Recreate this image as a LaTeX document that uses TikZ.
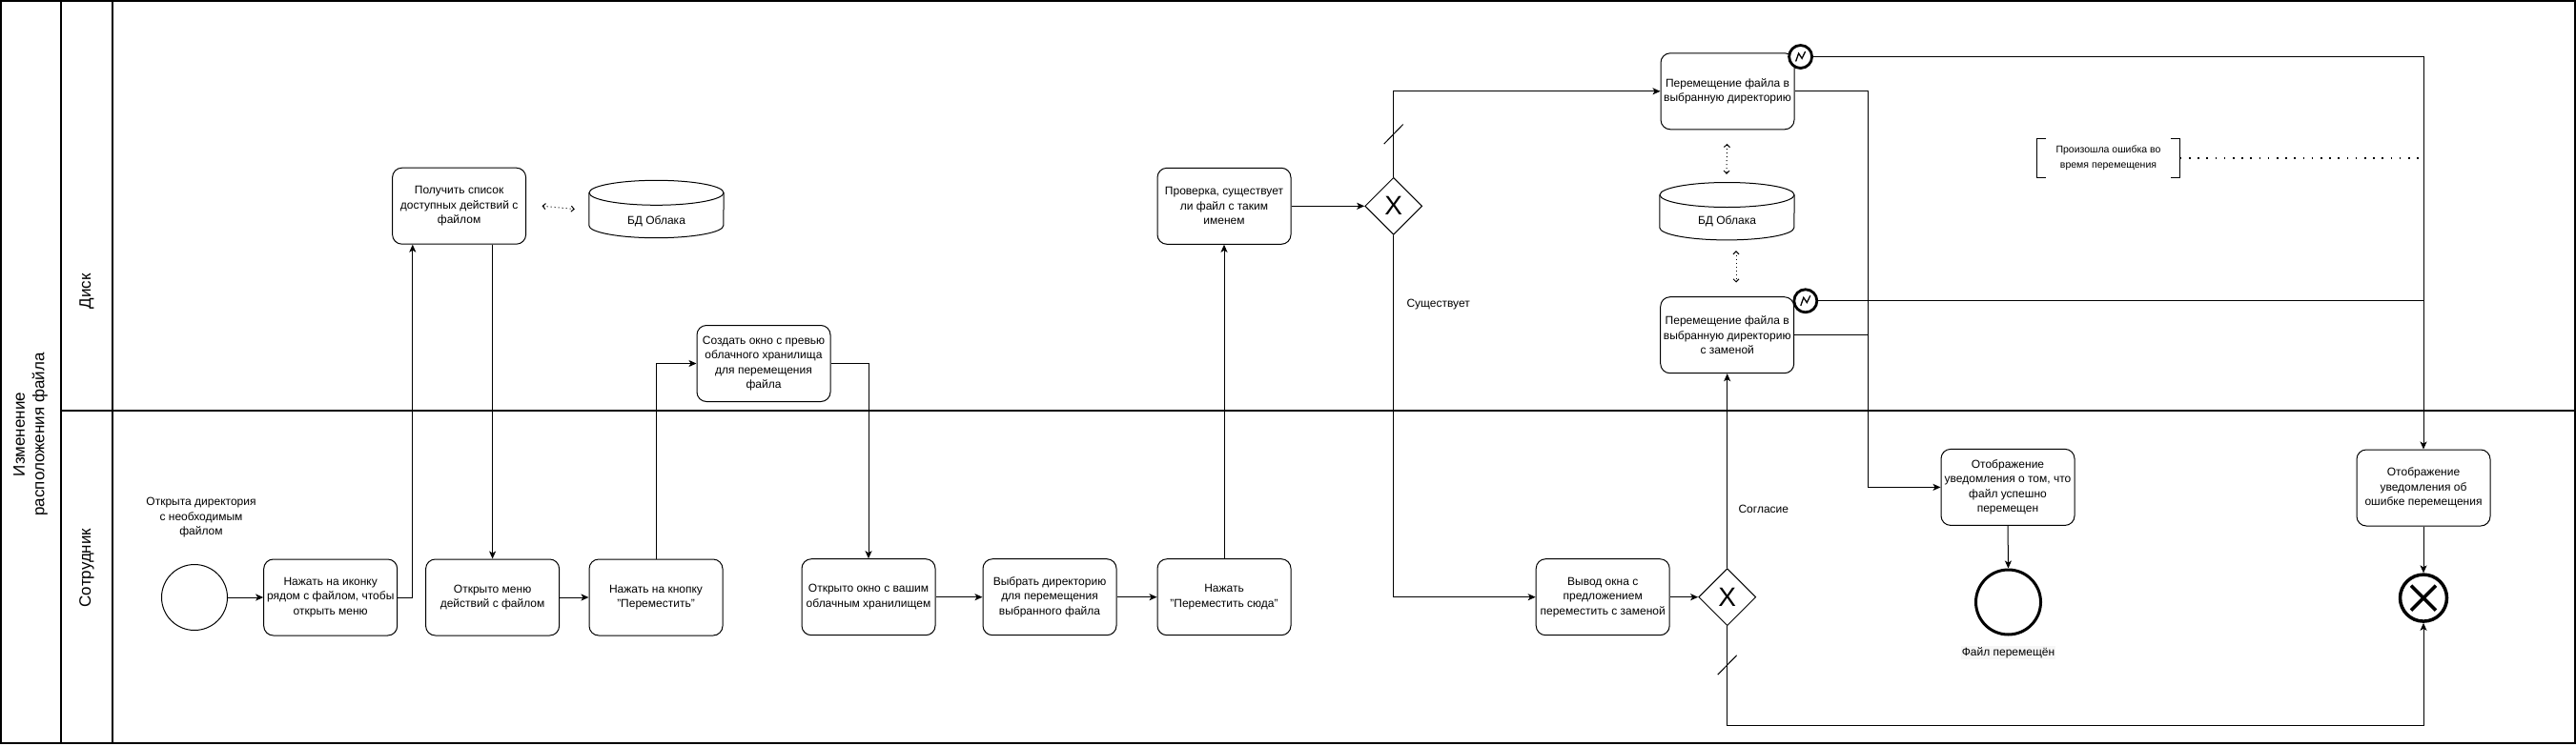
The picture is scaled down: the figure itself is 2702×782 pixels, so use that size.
\documentclass[tikz,border=0pt]{standalone}
\usepackage{fontspec}
\setmainfont{Liberation Sans}
\usetikzlibrary{arrows.meta,shapes.geometric,calc}
\begin{document}
\begin{tikzpicture}[x=1pt,y=-1pt,
  task/.style={draw, rounded corners=10pt, minimum width=140pt, minimum height=80pt, align=center, inner sep=1pt, line width=1pt, font=\fontsize{12}{15.5}\selectfont, fill=white},
  flow/.style={line width=1pt, -{Stealth[length=8pt,width=7pt,inset=2pt]}},
  plain/.style={line width=1pt},
  assoc/.style={line width=1pt, dash pattern=on 1pt off 3pt, {Straight Barb[length=3pt,width=6pt]}-{Straight Barb[length=3pt,width=6pt]}},
  annline/.style={line width=1.6pt, dash pattern=on 1.6pt off 7.6pt},
  gateway/.style={diamond, draw, minimum width=60pt, minimum height=60pt, inner sep=0pt, line width=1pt, font=\fontsize{28}{28}\selectfont, fill=white},
  txt/.style={align=center, font=\fontsize{12}{15.5}\selectfont},
  lanelbl/.style={rotate=90, align=center, font=\fontsize{17}{20.4}\selectfont},
  bevent/.style={circle, draw, line width=2.8pt, minimum size=24pt, inner sep=0pt, fill=white},
  startev/.style={circle, draw, line width=1pt, minimum size=69pt, inner sep=0pt},
  endev/.style={circle, draw, line width=3pt, minimum size=68pt, inner sep=0pt},
  errev/.style={circle, draw, line width=3.5pt, minimum size=49pt, inner sep=0pt},
  dbbox/.style={minimum width=141pt, minimum height=60pt, inner sep=0pt},
  slash/.style={line width=1pt}
]
\useasboundingbox (0,0) rectangle (2702,782);
\fill[white] (0,0) rectangle (2702,782);

% pool and lanes
\draw[line width=2pt] (1,1) rectangle (2701,780);
\draw[line width=2pt] (64,1) -- (64,780);
\draw[line width=2pt] (118,1) -- (118,780);
\draw[line width=2.6pt] (64,431) -- (2701,431);
\node[lanelbl] (pool) at (32,456) {Изменение\\расположения файла};
\node[lanelbl] (lane1) at (91,306) {Диск};
\node[lanelbl] (lane2) at (91,596) {Сотрудник};

% data store outlines
\node[dbbox] (db1) at (688.5,219.5) {};
\node[dbbox] (db2) at (1811.5,221.7) {};
\foreach \d in {db1,db2}{
  \draw[line width=1pt]
    ($(\d.north west)+(0,13)$) -- ($(\d.south west)+(0,-13)$)
    arc[start angle=180, end angle=360, x radius=70.5pt, y radius=13pt]
    -- ($(\d.north east)+(0,13)$);
  \draw[line width=1pt] ($(\d.north)+(0,13)$) ellipse [x radius=70.5pt, y radius=13pt];
}
\node[txt] (db1t) at (688.5,232) {БД Облака};
\node[txt] (db2t) at (1811.5,232.3) {БД Облака};

% nodes
\node[startev] (start) at (204,627) {};
\node[txt] (startlbl) at (211,543.5) {Открыта директория\\с необходимым\\файлом};
\node[task] (b1) at (346.7,627) {Нажать на иконку\\рядом с файлом, чтобы\\открыть меню};
\node[task] (b2) at (481.6,216.2) {Получить список\\доступных действий с\\файлом};
\node[task] (b3) at (516.6,627) {Открыто меню\\действий с файлом};
\node[task] (b4) at (688,627) {Нажать на кнопку\\"Переместить"};
\node[task] (b5) at (801,381.5) {Создать окно с превью\\облачного хранилища\\для перемещения\\файла};
\node[task] (b6) at (911,626.7) {Открыто окно с вашим\\облачным хранилищем};
\node[task] (b7) at (1101,626.7) {Выбрать директорию\\для перемещения\\выбранного файла};
\node[task] (b8) at (1284,626.7) {Нажать\\"Переместить сюда"};
\node[task] (b9) at (1284,216.3) {Проверка, существует\\ли файл с таким\\именем};
\node[gateway] (gw1) at (1461.7,216.3) {X};
\node[task] (b10) at (1812,95.8) {Перемещение файла в\\выбранную директорию};
\node[task] (b11) at (1811.7,351.7) {Перемещение файла в\\выбранную директорию\\с заменой};
\node[task] (b12) at (1681.2,626.7) {Вывод окна с\\предложением\\переместить с заменой};
\node[gateway] (gw2) at (1811.7,626.7) {X};
\node[task] (b13) at (2106,511.4) {Отображение\\уведомления о том, что\\файл успешно\\перемещен};
\node[endev] (end1) at (2106.5,632) {};
\node[txt, fill=gray!6, inner sep=1pt] (end1lbl) at (2106.5,685) {Файл перемещён};
\node[task] (b14) at (2542,512) {Отображение\\уведомления об\\ошибке перемещения};
\node[errev] (end2) at (2542,627.6) {};
\node[minimum width=150pt, minimum height=40.3pt, inner sep=0pt, align=center, font=\fontsize{10.5}{16}\selectfont] (ann) at (2211.5,166.2) {Произошла ошибка во\\время перемещения};
\coordinate (annend) at (2537,166.2);
\coordinate (j1) at (1959.5,431);
\coordinate (j2) at (2542,761);

% flows
\draw[flow] (start.east) -- (b1.west);
\draw[flow] (b1.east) -| ([xshift=-48.8pt]b2.south);
\draw[flow] ([xshift=35pt]b2.south) -- (b3.north);
\draw[flow] (b3.east) -- (b4.west);
\draw[flow] (b4.north) |- (b5.west);
\draw[flow] (b5.east) -| (b6.north);
\draw[flow] (b6.east) -- (b7.west);
\draw[flow] (b7.east) -- (b8.west);
\draw[flow] (b8.north) -- (b9.south);
\draw[flow] (b9.east) -- (gw1.west);
\draw[flow] (gw1.north) |- (b10.west);
\draw[flow] (gw1.south) |- (b12.west);
\draw[flow] (b12.east) -- (gw2.west);
\draw[flow] (gw2.north) -- (b11.south);
\draw[flow] (gw2.south) |- (j2) -- (end2.south);
\draw[flow] (b10.east) -| (j1) |- (b13.west);
\draw[plain] (b11.east) -- (b11.east -| j1);
\draw[flow] (b13.south) -- (end1.north);
\draw[flow] (b14.south) -- (end2.north);

% default-flow slashes
\path (gw1.north) ++(0,-45) coordinate (s1);
\draw[slash] ($(s1)+(-10,10.3)$) -- ($(s1)+(10,-10.3)$);
\path (gw2.south) ++(0,40.8) coordinate (s2);
\draw[slash] ($(s2)+(-10,10.2)$) -- ($(s2)+(10,-10.2)$);

% labels
\node[txt, anchor=west] (lblex) at (1472,320) {Существует};
\node[txt, anchor=west] (lblag) at (1820,534) {Согласие};

% associations with data stores
\draw[assoc] ([xshift=16.4pt]b2.east) -- ([xshift=-15pt]db1.west);
\draw[assoc] ([xshift=-0.5pt,yshift=-14.5pt]b10.south) -- ([xshift=-0.5pt,yshift=8.7pt]db2.north);
\draw[assoc] ([xshift=9.5pt,yshift=-11.3pt]db2.south) -- ([xshift=9.3pt,yshift=14.7pt]b11.north);

% boundary error events
\node[bevent] (be1) at (1888.6,59.5) {};
\node[bevent] (be2) at (1893.8,315.8) {};
\foreach \e in {be1,be2}{
  \draw[line width=1.3pt, shift={(\e)}] (-5,5) -- (-2,-3.5) -- (1.5,1.8) -- (5,-5.5);
}
\draw[flow] (be1.east) -| (b14.north);
\draw[plain] (be2.east) -- (be2.east -| b14.north);

% error end marker
\draw[line width=3.5pt, shift={(end2)}] (-13,-13) -- (13,13) (-13,13) -- (13,-13);

% annotation
\draw[line width=1pt] ([xshift=10pt]ann.north west) -- (ann.north west) -- (ann.south west) -- ([xshift=10pt]ann.south west);
\draw[line width=1pt] ([xshift=-10pt]ann.north east) -- (ann.north east) -- (ann.south east) -- ([xshift=-10pt]ann.south east);
\draw[annline] (ann.east) -- (annend);
\end{tikzpicture}
\end{document}
